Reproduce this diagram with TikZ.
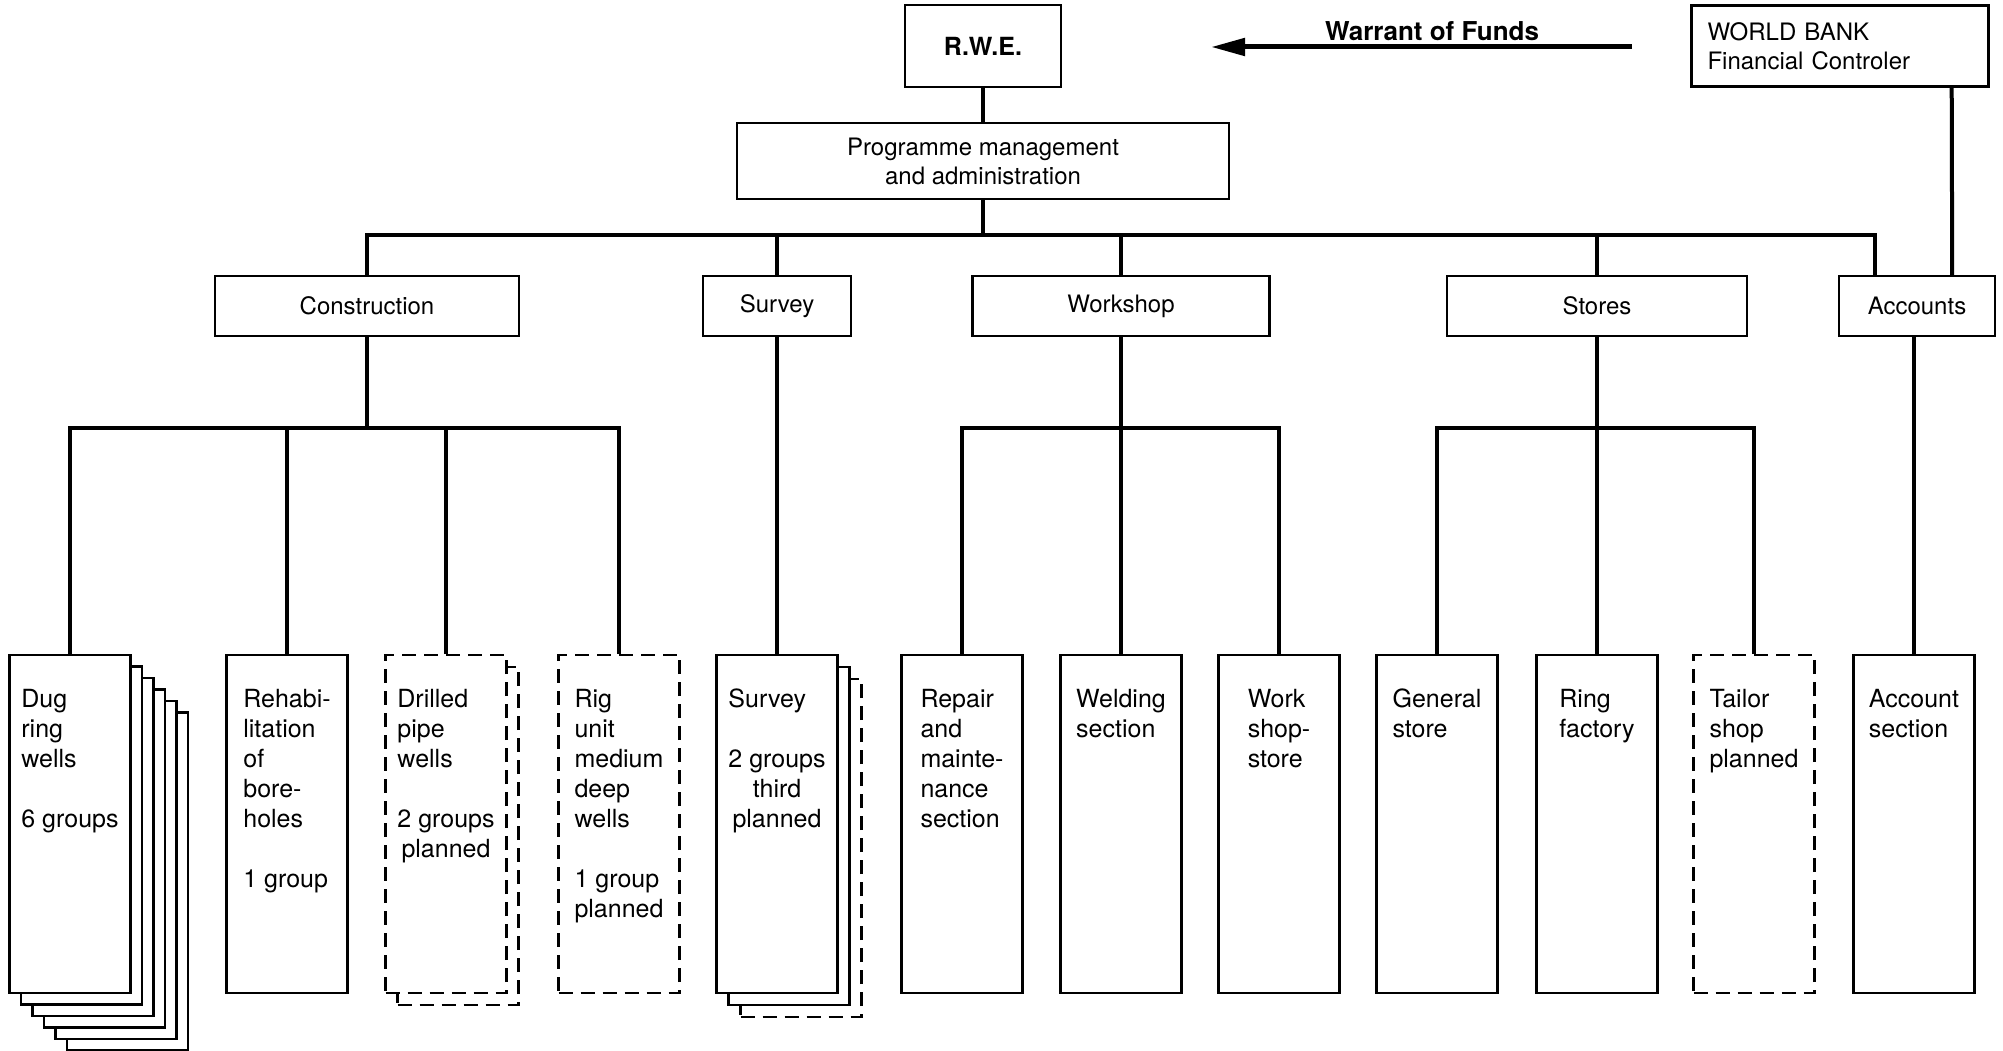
\documentclass[tikz,border=0pt]{standalone}
\usepackage{fontspec}
\setmainfont{TeX Gyre Heros}
\usetikzlibrary{arrows.meta,calc}
\newcommand\ctrblock[1]{\begin{tabular}[t]{@{}c@{}}#1\end{tabular}}
\begin{document}
\begin{tikzpicture}[x=1pt,y=-1pt,
  box/.style={draw, line width=2.4pt, rectangle, inner sep=0pt, fill=white},
  topfont/.style={font=\fontsize{24}{29}\selectfont},
  deptbox/.style={box, minimum height=60pt, topfont},
  unitbox/.style={box, minimum width=121pt, minimum height=338pt},
  planbox/.style={unitbox, dash pattern=on 14pt off 8pt},
  unittext/.style={anchor=north, align=left, inner sep=0pt, font=\fontsize{25}{30}\selectfont},
  link/.style={line width=4pt, line join=miter},
]
\useasboundingbox[fill=white] (0,0) rectangle (2003,1051);

% top level
\node[box, minimum width=156pt, minimum height=82pt, font=\bfseries\fontsize{25}{30}\selectfont] (rwe) at (983,46) {R.W.E.};
\node[box, minimum height=81pt, inner xsep=16pt, text width=265pt, align=left, topfont] (wb) at (1840,46) {WORLD BANK\\Financial Controler};
\node[box, minimum width=492pt, minimum height=76pt, align=center, topfont] (prog) at (983,161) {Programme management\\and administration};

\coordinate (arrS) at (1632,47);
\coordinate (arrE) at (1211,47);
\draw[line width=5pt, -{Triangle[length=34pt,width=17pt]}] (arrS) -- (arrE);
\node[font=\bfseries\fontsize{26}{30}\selectfont, inner sep=0pt] (warrant) at (1432,31) {Warrant of Funds};

% departments
\node[deptbox, minimum width=304pt] (cons) at (367,306) {Construction};
\node[deptbox, minimum width=148pt] (surv) at (777,306) {Survey};
\node[deptbox, minimum width=297pt] (work) at (1121,306) {Workshop};
\node[deptbox, minimum width=300pt] (stor) at (1597,306) {Stores};
\node[deptbox, minimum width=156pt] (acct) at (1917,306) {Accounts};

% level 3 shadows
\foreach \k in {5,4,3,2,1}{
  \node[unitbox] (dugs\k) at ({70+11.5*\k},{824+11.5*\k}) {};
}
\node[planbox] (drills) at (458,836) {};
\node[planbox] (survs2) at (801,848) {};
\node[unitbox] (survs1) at (789,836) {};

% level 3 boxes
\node[unitbox] (dug) at (70,824) {};
\node[unitbox] (rehab) at (287,824) {};
\node[planbox] (drill) at (446,824) {};
\node[planbox] (rig) at (619,824) {};
\node[unitbox] (sbox) at (777,824) {};
\node[unitbox] (repair) at (962,824) {};
\node[unitbox] (weld) at (1121,824) {};
\node[unitbox] (wshop) at (1279,824) {};
\node[unitbox] (gen) at (1437,824) {};
\node[unitbox] (ring) at (1597,824) {};
\node[planbox] (tailor) at (1754,824) {};
\node[unitbox] (accsec) at (1914,824) {};

% texts of level 3
\node[unittext] (dugt) at ($(dug.north)+(0,35)$) {Dug\\ring\\wells\\[30pt]6 groups};
\node[unittext] (rehabt) at ($(rehab.north)+(0,35)$) {Rehabi-\\litation\\of\\bore-\\holes\\[30pt]1 group};
\node[unittext] (drillt) at ($(drill.north)+(0,35)$) {Drilled\\pipe\\wells\\[30pt]\ctrblock{2 groups\\planned}};
\node[unittext] (rigt) at ($(rig.north)+(0,35)$) {Rig\\unit\\medium\\deep\\wells\\[30pt]1 group\\planned};
\node[unittext] (sboxt) at ($(sbox.north)+(0,35)$) {Survey\\[30pt]\ctrblock{2 groups\\third\\planned}};
\node[unittext] (repairt) at ($(repair.north)+(0,35)$) {Repair\\and\\mainte-\\nance\\section};
\node[unittext] (weldt) at ($(weld.north)+(0,35)$) {Welding\\section};
\node[unittext] (wshopt) at ($(wshop.north)+(0,35)$) {Work\\shop-\\store};
\node[unittext] (gent) at ($(gen.north)+(0,35)$) {General\\store};
\node[unittext] (ringt) at ($(ring.north)+(0,35)$) {Ring\\factory};
\node[unittext] (tailort) at ($(tailor.north)+(0,35)$) {Tailor\\shop\\planned};
\node[unittext] (accsect) at ($(accsec.north)+(0,35)$) {Account\\section};

% connectors
\coordinate (busL) at (0,236);
\coordinate (bus3) at (0,428);
\draw[link] (rwe.south) -- (prog.north);
\draw[link] (prog.south) -- (prog.south |- busL);
\draw[link] (cons.north) |- ($(acct.north)+(-42,-40)$) -- ($(acct.north)+(-42,0)$);
\draw[link] (surv.north) -- (surv.north |- busL);
\draw[link] (work.north) -- (work.north |- busL);
\draw[link] (stor.north) -- (stor.north |- busL);
\draw[link] ($(wb.south east)+(-38,0)$) -- ($(acct.north east)+(-44,0)$);

\draw[link] (cons.south) -- (cons.south |- bus3);
\draw[link] (dug.north) |- (rig.north |- bus3) -- (rig.north);
\draw[link] (rehab.north) -- (rehab.north |- bus3);
\draw[link] (drill.north) -- (drill.north |- bus3);
\draw[link] (surv.south) -- (sbox.north);

\draw[link] (work.south) -- (work.south |- bus3);
\draw[link] (repair.north) |- (wshop.north |- bus3) -- (wshop.north);
\draw[link] (weld.north) -- (weld.north |- bus3);

\draw[link] (stor.south) -- (stor.south |- bus3);
\draw[link] (gen.north) |- (tailor.north |- bus3) -- (tailor.north);
\draw[link] (ring.north) -- (ring.north |- bus3);

\draw[link] (acct.south -| accsec.north) -- (accsec.north);
\end{tikzpicture}
\end{document}
